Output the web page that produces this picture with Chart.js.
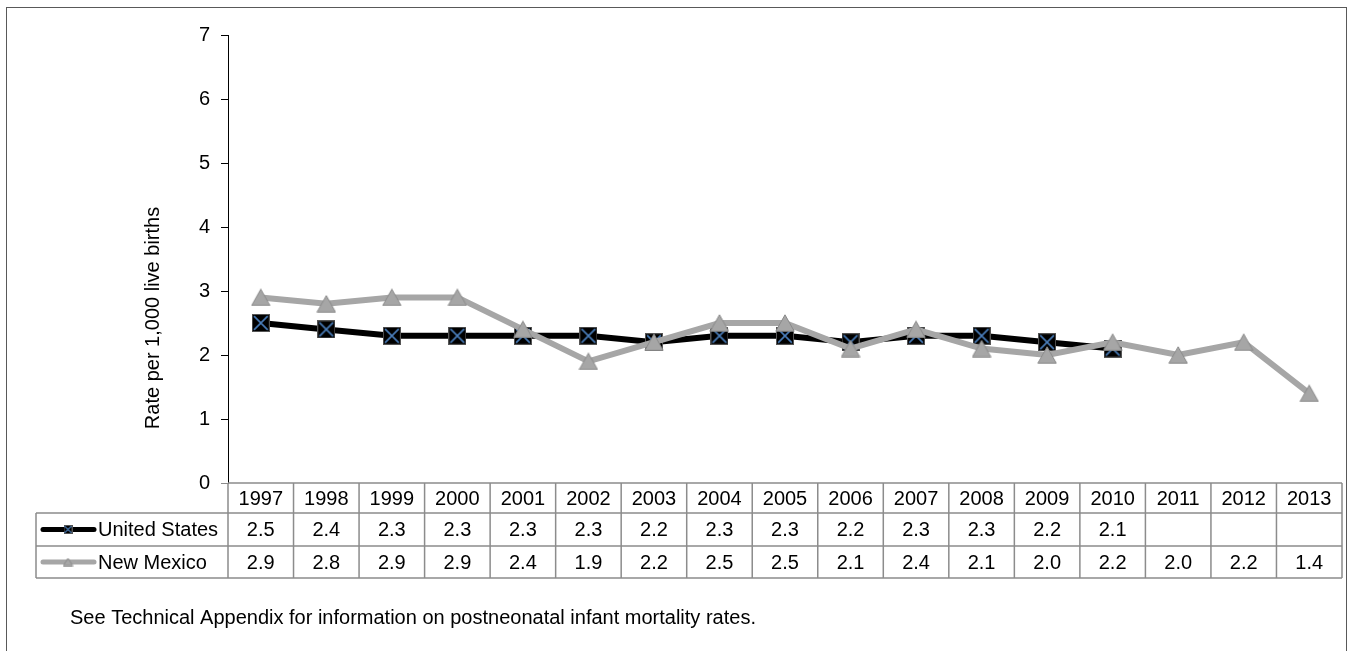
<!DOCTYPE html>
<html>
<head>
<meta charset="utf-8">
<script src="https://cdn.jsdelivr.net/npm/chart.js@4.4.0/dist/chart.umd.min.js"></script>
<style>
  html, body { margin: 0; padding: 0; background: #fff; }
</style>
</head>
<body>
<canvas id="chart" width="1352" height="651"></canvas>
<script>
const years = ['1997', '1998', '1999', '2000', '2001', '2002', '2003', '2004', '2005',
               '2006', '2007', '2008', '2009', '2010', '2011', '2012', '2013'];
const unitedStates = [2.5, 2.4, 2.3, 2.3, 2.3, 2.3, 2.2, 2.3, 2.3, 2.2, 2.3, 2.3, 2.2, 2.1, null, null, null];
const newMexico = [2.9, 2.8, 2.9, 2.9, 2.4, 1.9, 2.2, 2.5, 2.5, 2.1, 2.4, 2.1, 2.0, 2.2, 2.0, 2.2, 1.4];
const seriesNames = ['United States', 'New Mexico'];
const yMin = 0, yMax = 7, yStep = 1;
const axisTitle = 'Rate per 1,000 live births';
const footnote = 'See Technical Appendix for information on postneonatal infant mortality rates.';

const FONT = '"Liberation Sans", Arial, sans-serif';
const FONT_SIZE = 20;
const GRID = '#8c8c8c';

// black square with a blue cross
function squareMarker(size) {
  let c = document.createElement('canvas');
  c.width = c.height = size;
  let g = c.getContext('2d');
  g.fillStyle = '#000';
  g.fillRect(0, 0, size, size);
  g.strokeStyle = '#555';
  g.lineWidth = 1;
  g.strokeRect(0.5, 0.5, size - 1, size - 1);
  g.strokeStyle = '#4a7ebb';
  g.lineWidth = size > 12 ? 1.6 : 1.2;
  let p = size * 0.12;
  g.beginPath();
  g.moveTo(p, p); g.lineTo(size - p, size - p);
  g.moveTo(size - p, p); g.lineTo(p, size - p);
  g.stroke();
  return c;
}

function triangleMarker(w, h) {
  let c = document.createElement('canvas');
  c.width = w; c.height = h;
  let g = c.getContext('2d');
  g.fillStyle = '#a6a6a6';
  g.strokeStyle = '#8a8a8a';
  g.lineWidth = 1;
  g.beginPath();
  g.moveTo(w / 2, 0.8);
  g.lineTo(w - 0.8, h - 0.8);
  g.lineTo(0.8, h - 0.8);
  g.closePath();
  g.fill();
  g.stroke();
  return c;
}

const usMarker = squareMarker(18);
const nmMarker = triangleMarker(20, 18);
const usLegend = squareMarker(9);
const nmLegend = triangleMarker(11, 9);

const frame = {
  id: 'frame',
  beforeDraw(chart) {
    let ctx = chart.ctx;
    ctx.save();
    ctx.fillStyle = '#fff';
    ctx.fillRect(0, 0, chart.width, chart.height);
    ctx.strokeStyle = '#595959';
    ctx.lineWidth = 1;
    ctx.strokeRect(6.5, 7.5, chart.width - 12, chart.height + 20);
    ctx.restore();
  }
};

const dataTable = {
  id: 'dataTable',
  afterDraw(chart) {
    let ctx = chart.ctx,
        a = chart.chartArea,
        x = chart.scales.x,
        colW = (a.right - a.left) / years.length,
        rowY = [a.bottom, a.bottom + 30, a.bottom + 63, a.bottom + 95],
        legendLeft = 36;

    ctx.save();
    ctx.strokeStyle = GRID;
    ctx.lineWidth = 1.5;
    ctx.beginPath();
    // horizontal lines
    ctx.moveTo(a.left, rowY[0]); ctx.lineTo(a.right, rowY[0]);
    for (let r = 1; r < rowY.length; r++) {
      ctx.moveTo(legendLeft, rowY[r]); ctx.lineTo(a.right, rowY[r]);
    }
    // vertical lines
    for (let i = 0; i <= years.length; i++) {
      let cx = a.left + i * colW;
      ctx.moveTo(cx, rowY[0]); ctx.lineTo(cx, rowY[3]);
    }
    ctx.moveTo(legendLeft, rowY[1]); ctx.lineTo(legendLeft, rowY[3]);
    ctx.stroke();

    ctx.fillStyle = '#000';
    ctx.font = FONT_SIZE + 'px ' + FONT;
    ctx.textAlign = 'center';
    ctx.textBaseline = 'middle';
    let rows = [years, unitedStates.map(v => v == null ? '' : v.toFixed(1)), newMexico.map(v => v.toFixed(1))];
    rows.forEach((vals, r) => {
      let cy = (rowY[r] + rowY[r + 1]) / 2 + 1;
      vals.forEach((v, i) => ctx.fillText(v, x.getPixelForValue(i), cy));
    });

    // legend keys
    let keys = [
      {color: '#000', img: usLegend},
      {color: '#a6a6a6', img: nmLegend}
    ];
    keys.forEach((k, r) => {
      let cy = (rowY[r + 1] + rowY[r + 2]) / 2;
      ctx.strokeStyle = k.color;
      ctx.lineWidth = 5;
      ctx.lineCap = 'round';
      ctx.beginPath();
      ctx.moveTo(43, cy); ctx.lineTo(94, cy);
      ctx.stroke();
      ctx.drawImage(k.img, 68 - k.img.width / 2, cy - k.img.height / 2);
      ctx.textAlign = 'left';
      ctx.fillText(seriesNames[r], 98, cy + 1);
    });

    // axis title
    ctx.save();
    ctx.translate(153, 318);
    ctx.rotate(-Math.PI / 2);
    ctx.textAlign = 'center';
    ctx.fillText(axisTitle, 0, 0);
    ctx.restore();

    // footnote
    ctx.textAlign = 'left';
    ctx.fillText(footnote, 70, 618);
    ctx.restore();
  }
};

new Chart(document.getElementById('chart'), {
  type: 'line',
  data: {
    labels: years,
    datasets: [
      {
        label: seriesNames[0],
        data: unitedStates,
        borderColor: '#000',
        borderWidth: 6,
        pointStyle: usMarker,
        order: 1
      },
      {
        label: seriesNames[1],
        data: newMexico,
        borderColor: '#a6a6a6',
        borderWidth: 6,
        pointStyle: nmMarker,
        order: 0
      }
    ]
  },
  options: {
    responsive: false,
    animation: false,
    layout: {padding: {top: 35, right: 8, left: 0, bottom: 0}},
    plugins: {legend: {display: false}, tooltip: {enabled: false}},
    scales: {
      x: {
        offset: true,
        ticks: {display: false},
        grid: {display: false},
        border: {display: false},
        afterFit: s => { s.height = 168; }
      },
      y: {
        min: yMin,
        max: yMax,
        ticks: {stepSize: yStep, padding: 11, color: '#000', font: {family: FONT, size: FONT_SIZE}},
        grid: {drawOnChartArea: false, tickLength: 7, color: c => c.tick && c.tick.value === 0 ? GRID : '#000'},
        border: {color: '#000', width: 1},
        afterFit: s => { s.width = 228; }
      }
    }
  },
  plugins: [frame, dataTable]
});
</script>
</body>
</html>
